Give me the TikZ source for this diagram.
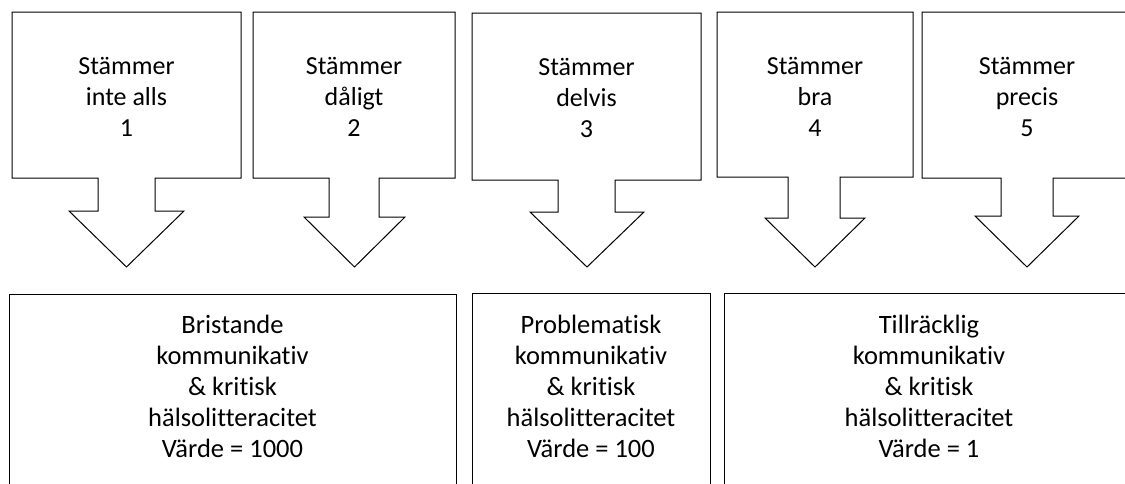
\documentclass[tikz,border=0pt]{standalone}
\usepackage{fontspec}
\setmainfont{Carlito}[RawFeature={-liga}]
\newcommand\dncallout[9]{%
  \draw[calloutline] (#1,#3) -- (#2,#3) -- (#2,#4) -- (#6,#4) -- (#6,#7) -- (#9,#7)
    -- ({(#8+#9)/2},267) -- (#8,#7) -- (#5,#7) -- (#5,#4) -- (#1,#4) -- cycle;}
\begin{document}
\begin{tikzpicture}[x=1pt,y=-1pt,
  calloutline/.style={draw=black,line width=1pt,line join=miter},
  resultbox/.style={draw=black,line width=1pt},
  toptext/.style={align=center,font=\fontsize{26}{31}\selectfont,inner sep=0pt},
  bottext/.style={align=center,font=\fontsize{26.5}{31}\selectfont,inner sep=0pt}]
\useasboundingbox (0,0) rectangle (1125,483);
\fill[white] (0,0) rectangle (1125,483);
\clip (0,0) rectangle (1125,483);
% top callouts
\dncallout{12}{241}{12}{178}{98}{155}{211}{69}{184}
\dncallout{253}{455}{12}{178}{329}{379}{217}{304}{405}
\dncallout{472}{701}{13}{180}{558}{615}{212}{530}{644}
\dncallout{717}{913}{12}{177}{788}{840}{218}{765}{865}
\dncallout{922}{1132}{12}{178}{1001}{1053}{216}{975}{1079}
\node[toptext] (t1) at (126.5,97) {Stämmer\\inte alls\\1};
\node[toptext] (t2) at (354,97) {Stämmer\\dåligt\\2};
\node[toptext] (t3) at (586.5,98) {Stämmer\\delvis\\3};
\node[toptext] (t4) at (815,97) {Stämmer\\bra\\4};
\node[toptext] (t5) at (1027,97) {Stämmer\\precis\\5};
% result boxes
\draw[resultbox] (9,294) rectangle (456,520);
\draw[resultbox] (472,293) rectangle (710,520);
\draw[resultbox] (724,293) rectangle (1134,520);
\node[bottext] (r1) at (232.5,386) {Bristande\\kommunikativ\\\&\ kritisk\\hälsolitteracitet\\Värde = 1000};
\node[bottext] (r2) at (591,386) {Problematisk\\kommunikativ\\\&\ kritisk\\hälsolitteracitet\\Värde = 100};
\node[bottext] (r3) at (929,386) {Tillräcklig\\kommunikativ\\\&\ kritisk\\hälsolitteracitet\\Värde = 1};
\end{tikzpicture}
\end{document}
